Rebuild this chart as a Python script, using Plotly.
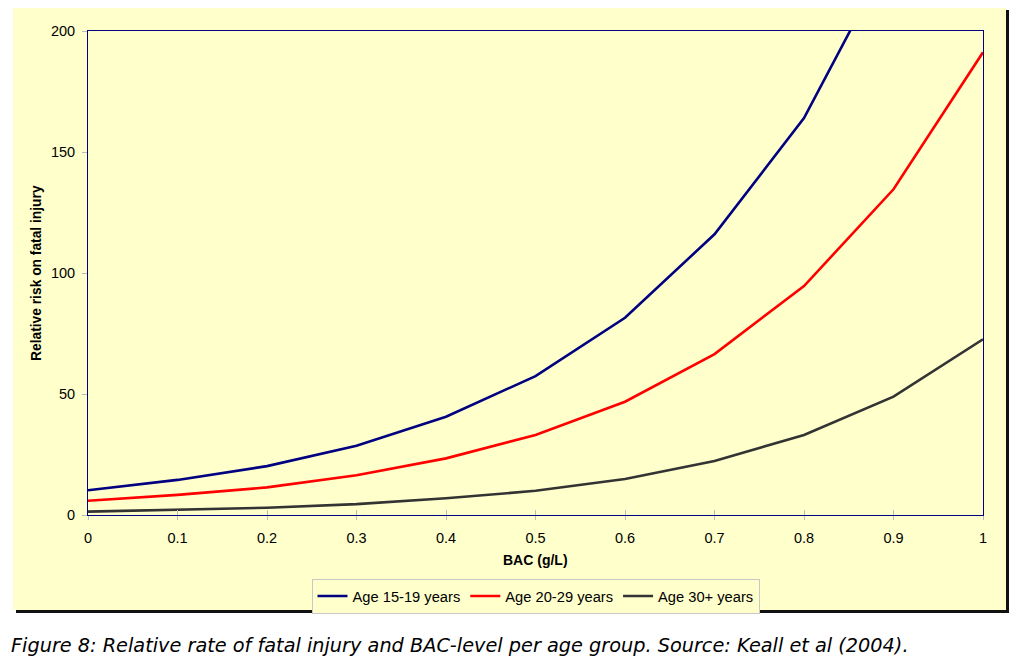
import plotly.graph_objects as go

bac = [0, 0.1, 0.2, 0.3, 0.4, 0.5, 0.6, 0.7, 0.8, 0.9, 1.0]
age_15_19 = [10.2, 14.5, 20.2, 28.6, 40.6, 57.4, 81.5, 116.0, 164.0, 234.0, 330.0]
age_20_29 = [5.9, 8.3, 11.4, 16.4, 23.4, 33.1, 46.8, 66.5, 94.6, 134.6, 191.2]
age_30_plus = [1.4, 2.2, 3.0, 4.5, 6.9, 10.0, 14.9, 22.3, 33.1, 48.9, 72.6]

series_names = ["Age 15-19 years", "Age 20-29 years", "Age 30+ years"]
series_colors = ["#000080", "#FF0000", "#333333"]

x_tickvals = [0, 0.1, 0.2, 0.3, 0.4, 0.5, 0.6, 0.7, 0.8, 0.9, 1.0]
x_ticktext = ["0", "0.1", "0.2", "0.3", "0.4", "0.5", "0.6", "0.7", "0.8", "0.9", "1"]
y_tickvals = [0, 50, 100, 150, 200]

x_title = "BAC (g/L)"
y_title = "Relative risk on fatal injury"
caption = "Figure 8: Relative rate of fatal injury and BAC-level per age group. Source: Keall et al (2004)."

# page body has an 8px margin, so the figure is drawn 8px smaller
OFF = 8
W, H = 1024, 665
L, R, T, B = 88, 983, 31, 515
pw, ph = R - L, B - T


def px(x):
    return (x - L) / pw


def py(y):
    return (B - y) / ph


YELLOW = "#FFFFCC"
FONT = "Liberation Sans, Arial, sans-serif"

fig = go.Figure()
for name, vals, col in zip(series_names, [age_15_19, age_20_29, age_30_plus], series_colors):
    fig.add_trace(go.Scatter(x=bac, y=vals, mode="lines", name=name,
                             line=dict(color=col, width=2.6)))
# empty trace so the overlay axis (inner tick marks) gets drawn
fig.add_trace(go.Scatter(x=[], y=[], xaxis="x2", showlegend=False, hoverinfo="skip"))

fig.update_layout(
    width=W - OFF, height=H - OFF,
    margin=dict(l=L - OFF, r=W - R, t=T - OFF, b=H - B, autoexpand=False),
    paper_bgcolor="white",
    plot_bgcolor=YELLOW,
    font=dict(family=FONT, size=14, color="black"),
    showlegend=True,
    legend=dict(orientation="h", x=0.5, xanchor="center", y=py(579), yanchor="top",
                bgcolor=YELLOW, bordercolor="#C8C8C8", borderwidth=1,
                font=dict(size=14.7, family=FONT), itemwidth=30,
                tracegroupgap=0),
    xaxis=dict(range=[0, 1], tickvals=x_tickvals, ticktext=x_ticktext,
               showgrid=False, zeroline=False, showline=True, mirror=True,
               linecolor="#000080", linewidth=1,
               ticks="outside", ticklen=4, tickcolor="#BBBBBB", tickwidth=1,
               ticklabelstandoff=6, tickfont=dict(size=14.5)),
    xaxis2=dict(range=[0, 1], tickvals=x_tickvals, overlaying="x", anchor="y",
                side="bottom",
                showticklabels=False, showgrid=False, zeroline=False, showline=False,
                ticks="inside", ticklen=5, tickcolor="#BBBBBB", tickwidth=1),
    yaxis=dict(range=[0, 200], tickvals=y_tickvals,
               showgrid=False, zeroline=False, showline=True, mirror=True,
               linecolor="#000080", linewidth=1,
               ticks="outside", ticklen=5, tickcolor="#BBBBBB", tickwidth=1,
               ticklabelstandoff=4, tickfont=dict(size=14.5)),
    shapes=[
        dict(type="rect", xref="paper", yref="paper", layer="below",
             x0=px(16), x1=px(1009), y0=py(10), y1=py(613),
             fillcolor="#111111", line=dict(width=0)),
        dict(type="rect", xref="paper", yref="paper", layer="below",
             x0=px(13), x1=px(1006), y0=py(7), y1=py(610),
             fillcolor=YELLOW, line=dict(width=0)),
    ],
    annotations=[
        dict(text="<b>" + x_title + "</b>", xref="paper", yref="paper",
             x=0.5, y=py(560), xanchor="center", yanchor="middle",
             showarrow=False, font=dict(size=14)),
        dict(text="<b>" + y_title + "</b>", xref="paper", yref="paper",
             x=px(36), y=0.5, xanchor="center", yanchor="middle", textangle=-90,
             showarrow=False, font=dict(size=13.8)),
        dict(text="<i>" + caption + "</i>", xref="paper", yref="paper",
             x=px(9), y=py(645), xanchor="left", yanchor="middle",
             showarrow=False, font=dict(size=19.3, family="DejaVu Sans, sans-serif")),
    ],
)

fig.write_html("out.html")
